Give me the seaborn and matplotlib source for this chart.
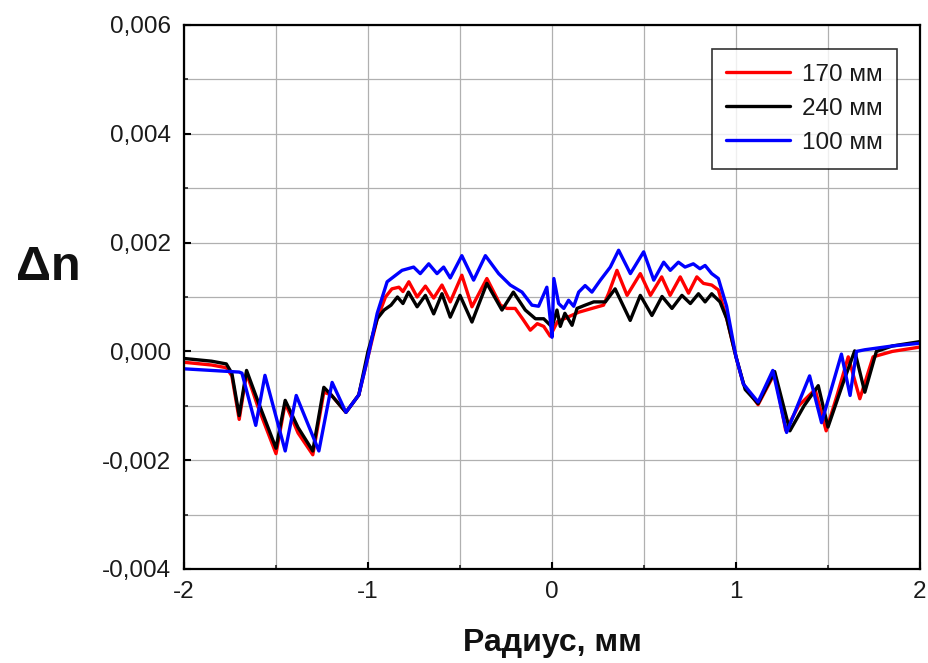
import numpy as np
import pandas as pd
import matplotlib
matplotlib.use("Agg")
import matplotlib.pyplot as plt
import seaborn as sns
from matplotlib.ticker import MultipleLocator, FuncFormatter

# ---- data ----
x_170 = [-2.0, -1.85, -1.77, -1.74, -1.70, -1.66, -1.60, -1.50, -1.45, -1.38, -1.30, -1.24, -1.20, -1.12,
         -1.05, -1.0, -0.95, -0.905, -0.87, -0.832, -0.81, -0.778, -0.733, -0.688, -0.643, -0.598, -0.553,
         -0.49, -0.435, -0.354, -0.28, -0.245, -0.2, -0.16, -0.118, -0.08, -0.045, -0.01, 0.0, 0.03, 0.073,
         0.145, 0.217, 0.28, 0.308, 0.353, 0.408, 0.48, 0.535, 0.596, 0.642, 0.697, 0.742, 0.787, 0.823,
         0.868, 0.904, 0.95, 1.0, 1.04, 1.12, 1.21, 1.27, 1.34, 1.43, 1.49, 1.55, 1.61, 1.673, 1.745,
         1.85, 2.0]
y_170 = [-0.0002, -0.00025, -0.0003, -0.00045, -0.00125, -0.0004, -0.001, -0.00188, -0.00095, -0.0015,
         -0.0019, -0.00075, -0.0008, -0.00112, -0.0008, -0.0001, 0.0006, 0.001, 0.00115, 0.00118, 0.0011,
         0.00128, 0.001, 0.0012, 0.00098, 0.00122, 0.00091, 0.0014, 0.00082, 0.00134, 0.00085, 0.00079,
         0.00079, 0.0006, 0.00039, 0.00051, 0.00046, 0.00028, 0.00035, 0.00055, 0.00061, 0.00072, 0.00079,
         0.00085, 0.00107, 0.00149, 0.00103, 0.00143, 0.00103, 0.00137, 0.00103, 0.00137, 0.00107, 0.00137,
         0.00125, 0.00122, 0.00113, 0.0006, -0.0001, -0.0006, -0.00098, -0.0004, -0.00145, -0.001, -0.0007,
         -0.00146, -0.0008, -0.0001, -0.00087, -0.0001, 0.0, 0.00008]

x_240 = [-2.0, -1.85, -1.77, -1.74, -1.70, -1.66, -1.60, -1.50, -1.45, -1.38, -1.30, -1.24, -1.20, -1.12,
         -1.05, -1.0, -0.95, -0.913, -0.875, -0.84, -0.81, -0.78, -0.733, -0.688, -0.643, -0.598, -0.553,
         -0.50, -0.435, -0.354, -0.272, -0.21, -0.145, -0.09, -0.045, 0.0, 0.027, 0.045, 0.07, 0.109, 0.136,
         0.18, 0.227, 0.29, 0.343, 0.425, 0.48, 0.543, 0.598, 0.652, 0.706, 0.752, 0.796, 0.832, 0.868,
         0.913, 0.95, 1.0, 1.05, 1.12, 1.21, 1.293, 1.37, 1.447, 1.50, 1.58, 1.645, 1.70, 1.763, 1.85, 2.0]
y_240 = [-0.00013, -0.00018, -0.00023, -0.0004, -0.00118, -0.00035, -0.0009, -0.00178, -0.0009, -0.0014,
         -0.00183, -0.00066, -0.0008, -0.00112, -0.0008, 0.0, 0.0006, 0.00076, 0.00085, 0.001, 0.00088,
         0.00109, 0.00082, 0.00103, 0.00069, 0.00106, 0.00063, 0.00103, 0.00054, 0.00125, 0.00076, 0.00109,
         0.00076, 0.0006, 0.0006, 0.00045, 0.00076, 0.00046, 0.0007, 0.00048, 0.00079, 0.00085, 0.00091,
         0.00091, 0.00115, 0.00057, 0.00103, 0.00066, 0.00101, 0.00079, 0.00103, 0.00088, 0.00106, 0.00091,
         0.00106, 0.00091, 0.0006, -0.0001, -0.0007, -0.00096, -0.00037, -0.00146, -0.001, -0.00063, -0.00139,
         -0.0006, 0.00001, -0.00075, 0.0, 0.0001, 0.00018]

x_100 = [-2.0, -1.85, -1.70, -1.685, -1.61, -1.56, -1.45, -1.39, -1.267, -1.195, -1.12, -1.05, -1.0, -0.95,
         -0.896, -0.869, -0.815, -0.752, -0.716, -0.67, -0.625, -0.589, -0.553, -0.49, -0.426, -0.362, -0.29,
         -0.227, -0.163, -0.109, -0.073, -0.028, -0.01, 0.0, 0.01, 0.036, 0.064, 0.09, 0.118, 0.145, 0.18,
         0.217, 0.263, 0.317, 0.362, 0.426, 0.498, 0.553, 0.607, 0.643, 0.687, 0.723, 0.768, 0.804, 0.832,
         0.868, 0.904, 0.949, 1.0, 1.04, 1.12, 1.2, 1.275, 1.4, 1.465, 1.573, 1.62, 1.655, 1.7, 1.85, 2.0]
y_100 = [-0.00032, -0.00035, -0.00038, -0.0004, -0.00136, -0.00044, -0.00183, -0.00081, -0.00183, -0.00057,
         -0.00112, -0.0008, -0.0001, 0.0007, 0.00128, 0.00135, 0.00149, 0.00155, 0.00143, 0.00161, 0.00143,
         0.00155, 0.00135, 0.00176, 0.00131, 0.00176, 0.00143, 0.00122, 0.00109, 0.00085, 0.00083, 0.00118,
         0.0006, 0.00026, 0.00134, 0.00088, 0.00079, 0.00094, 0.00083, 0.00109, 0.00121, 0.00109, 0.00131,
         0.00155, 0.00186, 0.00143, 0.00183, 0.00131, 0.00164, 0.00149, 0.00164, 0.00155, 0.00161, 0.00152,
         0.00158, 0.00143, 0.00134, 0.00083, -0.0001, -0.0006, -0.00093, -0.00035, -0.00149, -0.00045,
         -0.00131, -0.00005, -0.00081, 0.0, 0.00003, 0.0001, 0.00015]

labels = ["170 мм", "240 мм", "100 мм"]
colors = ["#ff0000", "#000000", "#0000ff"]
x_ticks = [-2, -1, 0, 1, 2]
y_ticks = [-0.004, -0.002, 0.0, 0.002, 0.004, 0.006]

frames = []
for lab, xs, ys in zip(labels, [x_170, x_240, x_100], [y_170, y_240, y_100]):
    frames.append(pd.DataFrame({"r": xs, "dn": ys, "series": lab}))
df = pd.concat(frames, ignore_index=True)

sns.set_theme(style="white")
plt.rcParams["font.family"] = ["Liberation Sans", "DejaVu Sans"]

fig = plt.figure(figsize=(9.29, 6.63), dpi=100)
ax = fig.add_axes([184 / 929, 1 - 569 / 663, (920 - 184) / 929, (569 - 25) / 663])

sns.lineplot(data=df, x="r", y="dn", hue="series", hue_order=labels,
             palette=dict(zip(labels, colors)), sort=False, estimator=None,
             units="series", linewidth=2.4, ax=ax)

ax.set_xlim(-2, 2)
ax.set_ylim(-0.004, 0.006)
ax.set_xticks(x_ticks)
ax.set_yticks(y_ticks)
ax.xaxis.set_minor_locator(MultipleLocator(0.5))
ax.yaxis.set_minor_locator(MultipleLocator(0.001))
ax.yaxis.set_major_formatter(FuncFormatter(lambda v, p: f"{v:.3f}".replace(".", ",").replace("-0,000", "0,000")))
ax.xaxis.set_major_formatter(FuncFormatter(lambda v, p: f"{v:g}"))

ax.grid(True, which="both", color="#b0b0b0", linewidth=0.9)
ax.set_axisbelow(True)
for s in ax.spines.values():
    s.set_color("black")
    s.set_linewidth(1.6)

ax.tick_params(which="major", direction="in", length=5, width=1.5, labelsize=17.5,
               colors="black", labelcolor="#1a1a1a", pad=9, left=True, bottom=True)
ax.tick_params(which="minor", direction="in", length=3, width=1.2, left=True, bottom=True)

ax.set_xlabel("Радиус, мм", fontsize=23, fontweight="bold", labelpad=18, color="#111111")
ax.set_ylabel("")
fig.text(48 / 929, 1 - 268 / 663, "Δn", fontsize=35, fontweight="bold", ha="center", va="center",
         color="#111111")

leg = ax.legend(loc="upper right", bbox_to_anchor=((897 - 184) / 736, 1 - (49 - 25) / 544),
                fontsize=17.5, frameon=True, fancybox=False, edgecolor="black",
                handlelength=2.6, handletextpad=0.5, labelspacing=0.5, borderpad=0.6,
                borderaxespad=0)
leg.get_frame().set_linewidth(1.2)
for t in leg.get_texts():
    t.set_color("#1a1a1a")
for line in leg.get_lines():
    line.set_linewidth(2.4)

fig.savefig("out.png", dpi=100)
